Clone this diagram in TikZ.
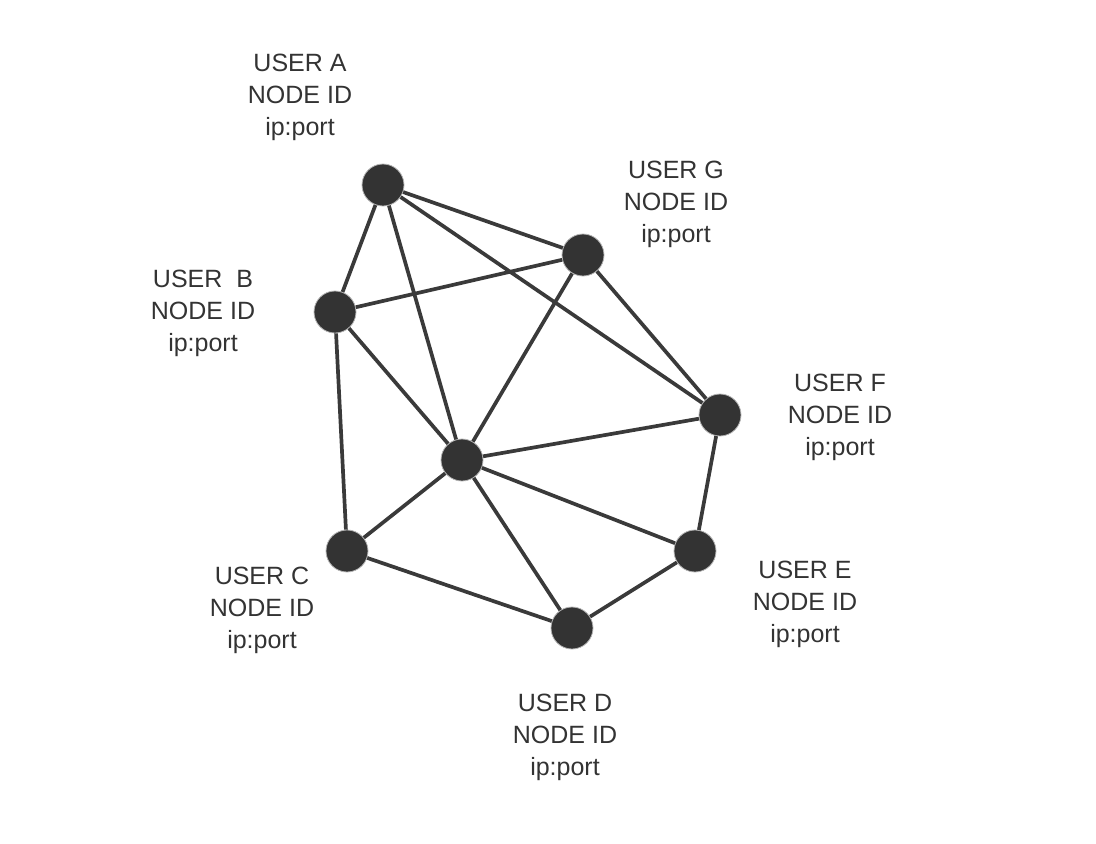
\documentclass[tikz,border=0pt]{standalone}
\usepackage{fontspec}
\setmainfont{Liberation Sans}
\definecolor{ink}{HTML}{333333}
\definecolor{edge}{HTML}{3A3A3A}
\begin{document}
\begin{tikzpicture}[x=1pt,y=-1pt,
  peer/.style={circle,fill=ink,draw=gray!60,line width=0.8pt,minimum size=42pt,inner sep=0pt},
  lbl/.style={align=center,text=ink,font=\fontsize{25pt}{32pt}\selectfont,inner sep=0pt},
  link/.style={draw=edge,line width=3.7pt}]
\useasboundingbox (0,0) rectangle (1096,844);
\node[peer] (A) at (383,185) {};
\node[peer] (G) at (583,255) {};
\node[peer] (B) at (335,312) {};
\node[peer] (F) at (720,415) {};
\node[peer] (H) at (462,460) {};
\node[peer] (C) at (347,551) {};
\node[peer] (E) at (695,551) {};
\node[peer] (D) at (572,628) {};
\node[lbl] (lA) at (300,97) {USER A\\NODE ID\\ip:port};
\node[lbl] (lG) at (676,204) {USER G\\NODE ID\\ip:port};
\node[lbl] (lB) at (203,313) {USER\ \ B\\NODE ID\\ip:port};
\node[lbl] (lF) at (840,417) {USER F\\NODE ID\\ip:port};
\node[lbl] (lC) at (262,610) {USER C\\NODE ID\\ip:port};
\node[lbl] (lE) at (805,604) {USER E\\NODE ID\\ip:port};
\node[lbl] (lD) at (565,737) {USER D\\NODE ID\\ip:port};
\path[link] (A) -- (G) (A) -- (B) (A) -- (H) (A) -- (F)
  (B) -- (G) (B) -- (H) (B) -- (C)
  (G) -- (H) (G) -- (F)
  (F) -- (H) (F) -- (E)
  (H) -- (C) (H) -- (D) (H) -- (E)
  (C) -- (D) (D) -- (E);
\end{tikzpicture}
\end{document}
